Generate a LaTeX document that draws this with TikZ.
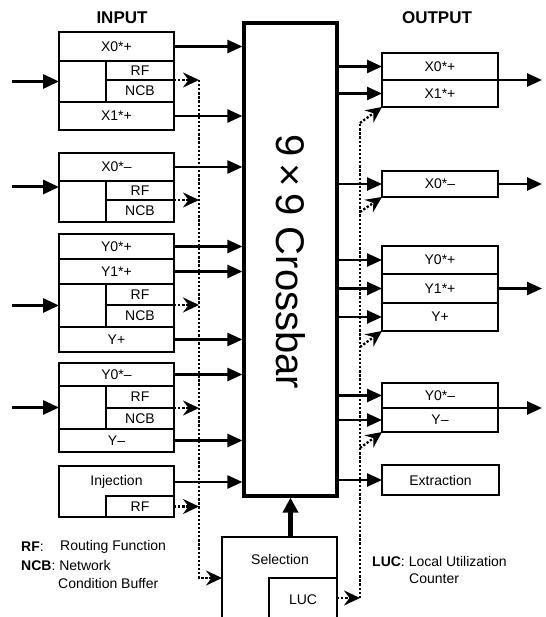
\documentclass[tikz,border=0pt]{standalone}
\usepackage{fontspec}
\setmainfont{Liberation Sans}
\usetikzlibrary{arrows.meta}
\begin{document}
\begin{tikzpicture}[x=1pt,y=-1pt,
  cell/.style={draw, line width=2pt, inner sep=0pt, outer sep=0pt, font=\fontsize{14}{16}\selectfont},
  lbl/.style={inner sep=0pt, font=\fontsize{14}{16}\selectfont},
  head/.style={inner sep=0pt, font=\fontsize{17}{19}\selectfont\bfseries},
  sarrow/.style={line width=2.5pt, -{Triangle[length=15pt,width=13pt]}},
  inarrow/.style={line width=3pt, -{Triangle[length=16pt,width=14pt]}},
  dotline/.style={line width=2.3pt, dash pattern=on 2.3pt off 1.8pt},
  dotarrow/.style={dotline, -{Stealth[length=16pt,width=15pt,inset=5.5pt]}}
]
\useasboundingbox (0,0) rectangle (545,617);
\clip (0,0) rectangle (545,617);

% headings
\node[head] (hin) at (122,18) {INPUT};
\node[head] (hout) at (437,18) {OUTPUT};

% crossbar
\node[draw, line width=3.2pt, minimum width=93, minimum height=473, inner sep=0pt] (xb) at (290.5,259.5) {};
\node[inner sep=0pt, rotate=-90, font=\fontsize{40}{42}\selectfont] (xbt) at (290.5,262) {9\,×\,9 Crossbar};

% input box 1
\node[cell, minimum width=115, minimum height=29] (i1a) at (116.5,46.5) {X0*+};
\node[cell, minimum width=47, minimum height=41] (i1e) at (82.5,81.5) {};
\node[cell, minimum width=68, minimum height=19] (i1r) at (140,70.5) {RF};
\node[cell, minimum width=68, minimum height=22] (i1n) at (140,91) {NCB};
\node[cell, minimum width=115, minimum height=28] (i1b) at (116.5,116) {X1*+};

% input box 2
\node[cell, minimum width=115, minimum height=28] (i2a) at (116.5,167) {X0*–};
\node[cell, minimum width=47, minimum height=41] (i2e) at (82.5,201.5) {};
\node[cell, minimum width=68, minimum height=19] (i2r) at (140,190.5) {RF};
\node[cell, minimum width=68, minimum height=22] (i2n) at (140,211) {NCB};

% input box 3
\node[cell, minimum width=115, minimum height=25] (i3a) at (116.5,246.5) {Y0*+};
\node[cell, minimum width=115, minimum height=25] (i3b) at (116.5,271.5) {Y1*+};
\node[cell, minimum width=47, minimum height=43] (i3e) at (82.5,305.5) {};
\node[cell, minimum width=68, minimum height=21] (i3r) at (140,294.5) {RF};
\node[cell, minimum width=68, minimum height=22] (i3n) at (140,316) {NCB};
\node[cell, minimum width=115, minimum height=25] (i3c) at (116.5,339.5) {Y+};

% input box 4
\node[cell, minimum width=115, minimum height=23] (i4a) at (116.5,374.5) {Y0*–};
\node[cell, minimum width=47, minimum height=43] (i4e) at (82.5,407.5) {};
\node[cell, minimum width=68, minimum height=22] (i4r) at (140,397) {RF};
\node[cell, minimum width=68, minimum height=21] (i4n) at (140,418.5) {NCB};
\node[cell, minimum width=115, minimum height=23] (i4b) at (116.5,440.5) {Y–};

% injection
\node[cell, minimum width=115, minimum height=51] (inj) at (116.5,491.5) {};
\node[lbl] (injt) at (116.5,482) {Injection};
\node[cell, minimum width=68, minimum height=21] (injr) at (140,506.5) {RF};

% output boxes
\node[cell, minimum width=116, minimum height=27] (o1a) at (440,66.5) {X0*+};
\node[cell, minimum width=116, minimum height=27] (o1b) at (440,93.5) {X1*+};
\node[cell, minimum width=116, minimum height=26] (o2) at (440,184) {X0*–};
\node[cell, minimum width=116, minimum height=28] (o3a) at (440,260) {Y0*+};
\node[cell, minimum width=116, minimum height=29] (o3b) at (440,288.5) {Y1*+};
\node[cell, minimum width=116, minimum height=28] (o3c) at (440,317) {Y+};
\node[cell, minimum width=116, minimum height=25] (o4a) at (440,395.5) {Y0*–};
\node[cell, minimum width=116, minimum height=24] (o4b) at (440,420) {Y–};
\node[cell, minimum width=117, minimum height=30] (ext) at (440.5,480) {Extraction};

% selection
\node[cell, minimum width=115, minimum height=92] (sel) at (279.5,583) {};
\node[lbl] (selt) at (280,559) {Selection};
\node[cell, minimum width=68, minimum height=90] (luc) at (303,623) {};
\node[lbl] (luct) at (303,600) {LUC};

% legends
\node[lbl, anchor=west] (lg1) at (21,547) {\textbf{RF}:};
\node[lbl, anchor=west] (lg1b) at (60,547) {Routing Function};
\node[lbl, anchor=west] (lg2) at (21,565) {\textbf{NCB}: Network};
\node[lbl, anchor=west] (lg3) at (58,583) {Condition Buffer};
\node[lbl, anchor=west] (lg4) at (372,561) {\textbf{LUC}: Local Utilization};
\node[lbl, anchor=west] (lg5) at (409,579) {Counter};

% inputs from left
\coordinate (a1) at (12,81.5);
\coordinate (a2) at (12,187);
\coordinate (a3) at (12,305.5);
\coordinate (a4) at (12,407.5);
\draw[inarrow] (a1) -- (i1e.west);
\draw[inarrow] (a2) -- (a2 -| i2e.west);
\draw[inarrow] (a3) -- (i3e.west);
\draw[inarrow] (a4) -- (i4e.west);

% inputs to crossbar
\foreach \n in {i1a,i1b,i2a,i3a,i3b,i3c,i4a,i4b}
  \draw[sarrow] (\n.east) -- (\n.east -| xb.west);
\draw[sarrow] (inj.east |- injt) -- (injt -| xb.west);

% crossbar to outputs
\foreach \n in {o1a,o1b,o2,o3a,o3b,o3c,o4a,o4b,ext}
  \draw[sarrow] (\n.west -| xb.east) -- (\n.west);

% outputs to the right
\coordinate (e1) at (542,80);
\coordinate (e2) at (542,184);
\coordinate (e3) at (542,288.5);
\coordinate (e4) at (542,408);
\draw[sarrow] (o1a.south east) -- (e1);
\draw[sarrow] (o2.east) -- (e2);
\draw[sarrow] (o3b.east) -- (e3);
\draw[sarrow] (o4a.south east) -- (e4);

% selection to crossbar
\draw[line width=4.5pt, -{Triangle[length=15pt,width=15pt]}] (xb.south |- sel.north) -- (xb.south);

% left dotted bus
\coordinate (lbt) at (199,80);
\coordinate (lbb) at (199,578);
\draw[dotarrow] (lbt) -- (lbb) -- (lbb -| sel.west);
\foreach \n in {i1r,i2r,i3r,i4r}
  \draw[dotarrow] (\n.south east) -- (\n.south east -| lbt);
\draw[dotarrow] (injr.east) -- (injr.east -| lbt);

% right dotted bus
\coordinate (rbt) at (360,123);
\coordinate (rbb) at (360,598);
\coordinate (rb2) at (360,212);
\coordinate (rb3) at (360,347);
\coordinate (rb4) at (360,448);
\draw[dotarrow] (rbb -| luc.east) -- (rbb);
\draw[dotline] (rbb) -- (rbt);
\draw[dotarrow] (rbt) -- (o1b.south west);
\draw[dotarrow] (rb2) -- (o2.south west);
\draw[dotarrow] (rb3) -- (o3c.south west);
\draw[dotarrow] (rb4) -- (o4b.south west);
\end{tikzpicture}
\end{document}
